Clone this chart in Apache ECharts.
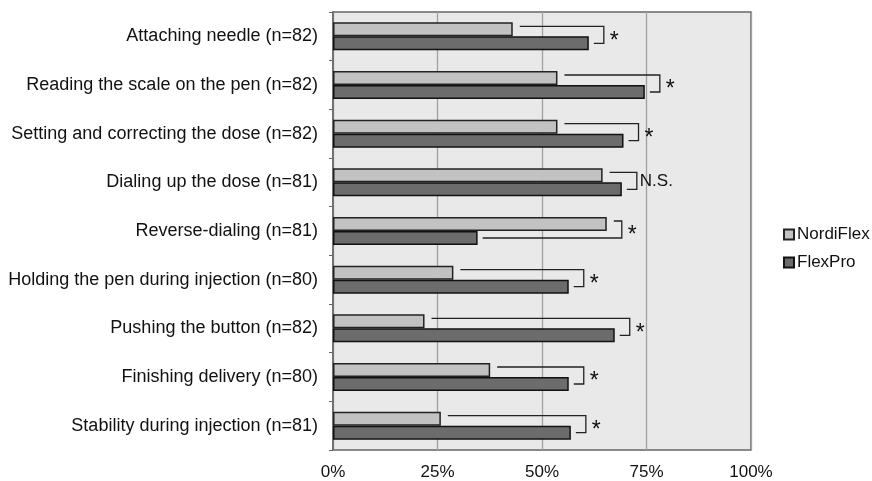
<!DOCTYPE html>
<html><head><meta charset="utf-8">
<script src="https://cdn.jsdelivr.net/npm/echarts@6/dist/echarts.min.js"></script>
<style>html,body{margin:0;padding:0;background:#fff}#c{width:872px;height:481px}</style>
</head><body><div id="c"></div>
<script>
var categories = ["Attaching needle (n=82)","Reading the scale on the pen (n=82)","Setting and correcting the dose (n=82)","Dialing up the dose (n=81)","Reverse-dialing (n=81)","Holding the pen during injection (n=80)","Pushing the button (n=82)","Finishing delivery (n=80)","Stability during injection (n=81)"];
var nordiFlex = [43.0, 53.7, 53.7, 64.5, 65.5, 28.8, 21.9, 37.6, 25.8];
var flexPro   = [61.2, 74.6, 69.5, 69.1, 34.6, 56.4, 67.4, 56.4, 56.9];
var significance = ["*","*","*","N.S.","*","*","*","*","*"];
var xTicks = [0, 25, 50, 75, 100];

var chart = echarts.init(document.getElementById('c'));
var FONT = 'Liberation Sans, Arial, sans-serif';
var bracketData = categories.map(function(c,i){return [i, nordiFlex[i], flexPro[i]];});
chart.setOption({
  animation:false,
  textStyle:{fontFamily:FONT},
  grid:{left:333,right:121,top:12,bottom:30,show:true,backgroundColor:'#e9e9e9',borderColor:'#666',borderWidth:1.5},
  legend:{orient:'vertical',left:778,top:221,icon:'rect',itemWidth:10,itemHeight:10,itemGap:11,
    textStyle:{fontSize:17,color:'#111',fontFamily:FONT,padding:[0,0,0,-2]},
    data:['NordiFlex','FlexPro']},
  xAxis:{type:'value',min:xTicks[0],max:xTicks[xTicks.length-1],interval:25,
    axisLabel:{formatter:function(v){return v+'%';},fontSize:17,color:'#111',margin:14},
    axisLine:{show:false},axisTick:{show:false},
    splitLine:{lineStyle:{color:'#a0a0a0',width:1.3}}},
  yAxis:{type:'category',data:categories,inverse:true,
    axisLabel:{fontSize:18,color:'#111',margin:15},
    axisLine:{lineStyle:{color:'#666',width:1.5}},
    axisTick:{show:true,length:4,lineStyle:{color:'#666'}}},
  series:[
    {name:'NordiFlex',type:'bar',data:nordiFlex,barWidth:14,barGap:'0%',
      itemStyle:{color:'#c2c2c2',borderColor:'#222',borderWidth:1.5}},
    {name:'FlexPro',type:'bar',data:flexPro,barWidth:14,barGap:'0%',
      itemStyle:{color:'#6c6c6c',borderColor:'#111',borderWidth:1.5}},
    {type:'custom',data:bracketData,encode:{x:[1,2],y:0},clip:false,silent:true,
      renderItem:function(params,api){
        var cat=api.value(0), a=api.value(1), b=api.value(2);
        var sig=significance[cat];
        var pa=api.coord([a,cat]), pb=api.coord([b,cat]);
        var cy=pa[1];
        var bx=Math.max(pa[0],pb[0])+15;
        var y1=cy-10, y2=cy+7;
        var star = sig==='*';
        return {type:'group',children:[
          {type:'polyline',shape:{points:[[pa[0]+7,y1],[bx,y1],[bx,y2],[pb[0]+5,y2]]},
            style:{stroke:'#222',lineWidth:1.3,fill:null}},
          {type:'text',x:bx+(star?6:3),y:cy+(star?5:-1),
            style:{text:sig,fontSize:star?23:17,fontFamily:FONT,fill:'#111',textVerticalAlign:'middle',textAlign:'left'}}
        ]};
      }}
  ]
});
</script></body></html>
